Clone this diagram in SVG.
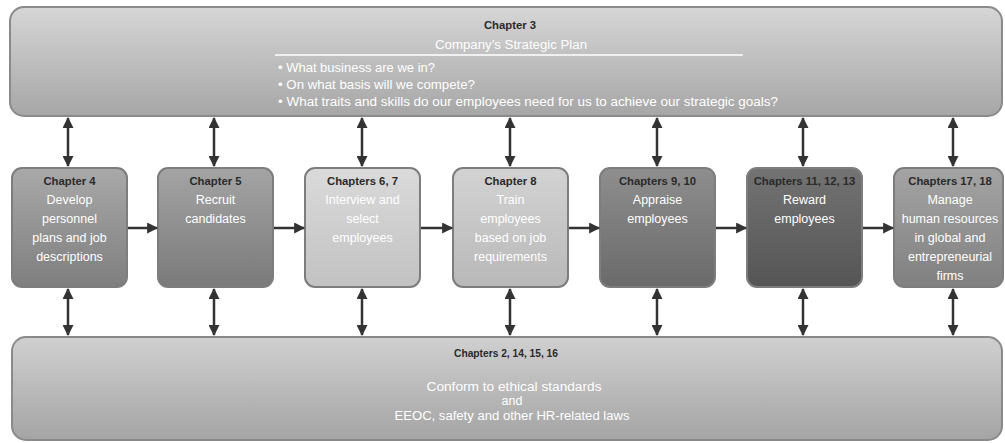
<svg xmlns="http://www.w3.org/2000/svg" width="1005" height="443" viewBox="0 0 1005 443">
<style>
.big{stroke:#8a8a8a;stroke-width:2}
.node{stroke:#7d7d7d;stroke-width:2}
.chap{font-family:"Liberation Sans",Arial,sans-serif;font-weight:bold;font-size:11.3px;fill:#2a2a2a;text-anchor:middle}
.desc{font-family:"Liberation Sans",Arial,sans-serif;font-size:12.5px;fill:#ffffff;text-anchor:middle}
.bul{font-family:"Liberation Sans",Arial,sans-serif;font-size:12.5px;fill:#ffffff}
.conn{stroke:#333;stroke-width:2.5;fill:none}
</style>
<defs>
<linearGradient id="gTop" x1="0" y1="0" x2="0" y2="1"><stop offset="0" stop-color="#d6d6d6"/><stop offset="1" stop-color="#a6a6a6"/></linearGradient>
<linearGradient id="gBot" x1="0" y1="0" x2="0" y2="1"><stop offset="0" stop-color="#d0d0d0"/><stop offset="1" stop-color="#a4a4a4"/></linearGradient>
<linearGradient id="g1" x1="0" y1="0" x2="0" y2="1"><stop offset="0" stop-color="#a9a9a9"/><stop offset="1" stop-color="#7e7e7e"/></linearGradient>
<linearGradient id="g2" x1="0" y1="0" x2="0" y2="1"><stop offset="0" stop-color="#a4a4a4"/><stop offset="1" stop-color="#7a7a7a"/></linearGradient>
<linearGradient id="g3" x1="0" y1="0" x2="0" y2="1"><stop offset="0" stop-color="#dadada"/><stop offset="1" stop-color="#c2c2c2"/></linearGradient>
<linearGradient id="g4" x1="0" y1="0" x2="0" y2="1"><stop offset="0" stop-color="#d3d3d3"/><stop offset="1" stop-color="#b8b8b8"/></linearGradient>
<linearGradient id="g5" x1="0" y1="0" x2="0" y2="1"><stop offset="0" stop-color="#8e8e8e"/><stop offset="1" stop-color="#6a6a6a"/></linearGradient>
<linearGradient id="g6" x1="0" y1="0" x2="0" y2="1"><stop offset="0" stop-color="#737373"/><stop offset="1" stop-color="#555555"/></linearGradient>
<linearGradient id="g7" x1="0" y1="0" x2="0" y2="1"><stop offset="0" stop-color="#a4a4a4"/><stop offset="1" stop-color="#808080"/></linearGradient>
<marker id="ah" viewBox="0 0 10 10" refX="9" refY="5" markerWidth="5" markerHeight="4.4" orient="auto-start-reverse" markerUnits="strokeWidth"><path d="M0,0 L10,5 L0,10 Z" fill="#333"/></marker>
</defs>
<rect width="1005" height="443" fill="#ffffff"/>

<g id="strategic-plan">
<rect class="big" x="10" y="7" width="992" height="109" rx="14" fill="url(#gTop)"/>
<text class="chap" x="510" y="29">Chapter 3</text>
<text class="desc" x="511" y="49" font-size="14" textLength="152" lengthAdjust="spacingAndGlyphs">Company’s Strategic Plan</text>
<line x1="275" y1="55" x2="743" y2="55" stroke="#ffffff" stroke-width="1.5"/>
<text class="bul" x="278" y="72" textLength="157" lengthAdjust="spacingAndGlyphs">• What business are we in?</text>
<text class="bul" x="278" y="89" textLength="197" lengthAdjust="spacingAndGlyphs">• On what basis will we compete?</text>
<text class="bul" x="278" y="106" textLength="500" lengthAdjust="spacingAndGlyphs">• What traits and skills do our employees need for us to achieve our strategic goals?</text>
</g>

<g id="n1">
<rect class="node" x="12" y="168" width="115" height="119" rx="10" fill="url(#g1)"/>
<text class="chap" x="69.5" y="185">Chapter 4</text>
<text class="desc" x="69.5" y="204">Develop</text>
<text class="desc" x="69.5" y="223">personnel</text>
<text class="desc" x="69.5" y="242">plans and job</text>
<text class="desc" x="69.5" y="261">descriptions</text>
</g>
<g id="n2">
<rect class="node" x="158" y="168" width="115" height="119" rx="10" fill="url(#g2)"/>
<text class="chap" x="215.5" y="185">Chapter 5</text>
<text class="desc" x="215.5" y="204">Recruit</text>
<text class="desc" x="215.5" y="223">candidates</text>
</g>
<g id="n3">
<rect class="node" x="305" y="168" width="115" height="119" rx="10" fill="url(#g3)" stroke="#a8a8a8"/>
<text class="chap" x="362.5" y="185">Chapters 6, 7</text>
<text class="desc" x="362.5" y="204">Interview and</text>
<text class="desc" x="362.5" y="223">select</text>
<text class="desc" x="362.5" y="242">employees</text>
</g>
<g id="n4">
<rect class="node" x="453" y="168" width="115" height="119" rx="10" fill="url(#g4)" stroke="#a0a0a0"/>
<text class="chap" x="510.5" y="185">Chapter 8</text>
<text class="desc" x="510.5" y="204">Train</text>
<text class="desc" x="510.5" y="223">employees</text>
<text class="desc" x="510.5" y="242">based on job</text>
<text class="desc" x="510.5" y="261">requirements</text>
</g>
<g id="n5">
<rect class="node" x="600" y="168" width="115" height="119" rx="10" fill="url(#g5)" stroke="#666"/>
<text class="chap" x="657.5" y="185">Chapters 9, 10</text>
<text class="desc" x="657.5" y="204">Appraise</text>
<text class="desc" x="657.5" y="223">employees</text>
</g>
<g id="n6">
<rect class="node" x="747" y="168" width="115" height="119" rx="10" fill="url(#g6)" stroke="#555"/>
<text class="chap" x="804.5" y="185">Chapters 11, 12, 13</text>
<text class="desc" x="804.5" y="204">Reward</text>
<text class="desc" x="804.5" y="223">employees</text>
</g>
<g id="n7">
<rect class="node" x="894" y="168" width="109" height="119" rx="10" fill="url(#g7)"/>
<text class="chap" x="950" y="185">Chapters 17, 18</text>
<text class="desc" x="950" y="204">Manage</text>
<text class="desc" x="950" y="223">human resources</text>
<text class="desc" x="950" y="242">in global and</text>
<text class="desc" x="950" y="261">entrepreneurial</text>
<text class="desc" x="950" y="280">firms</text>
</g>

<g id="laws">
<rect class="big" x="12" y="337" width="990" height="103" rx="14" fill="url(#gBot)"/>
<text class="chap" x="506" y="357" textLength="104" lengthAdjust="spacingAndGlyphs">Chapters 2, 14, 15, 16</text>
<text class="desc" x="514" y="391" font-size="13" textLength="175" lengthAdjust="spacingAndGlyphs">Conform to ethical standards</text>
<text class="desc" x="512" y="405" font-size="13">and</text>
<text class="desc" x="512" y="420" font-size="13" textLength="235" lengthAdjust="spacingAndGlyphs">EEOC, safety and other HR-related laws</text>
</g>

<g id="connectors">
<line class="conn" x1="128" y1="228" x2="157" y2="228" marker-end="url(#ah)"/>
<line class="conn" x1="274" y1="228" x2="304" y2="228" marker-end="url(#ah)"/>
<line class="conn" x1="421" y1="228" x2="452" y2="228" marker-end="url(#ah)"/>
<line class="conn" x1="569" y1="228" x2="599" y2="228" marker-end="url(#ah)"/>
<line class="conn" x1="716" y1="228" x2="746" y2="228" marker-end="url(#ah)"/>
<line class="conn" x1="863" y1="228" x2="893" y2="228" marker-end="url(#ah)"/>
<line class="conn" x1="68" y1="118" x2="68" y2="166" marker-start="url(#ah)" marker-end="url(#ah)"/>
<line class="conn" x1="214" y1="118" x2="214" y2="166" marker-start="url(#ah)" marker-end="url(#ah)"/>
<line class="conn" x1="362" y1="118" x2="362" y2="166" marker-start="url(#ah)" marker-end="url(#ah)"/>
<line class="conn" x1="510" y1="118" x2="510" y2="166" marker-start="url(#ah)" marker-end="url(#ah)"/>
<line class="conn" x1="657" y1="118" x2="657" y2="166" marker-start="url(#ah)" marker-end="url(#ah)"/>
<line class="conn" x1="803" y1="118" x2="803" y2="166" marker-start="url(#ah)" marker-end="url(#ah)"/>
<line class="conn" x1="953" y1="118" x2="953" y2="166" marker-start="url(#ah)" marker-end="url(#ah)"/>
<line class="conn" x1="68" y1="289" x2="68" y2="335" marker-start="url(#ah)" marker-end="url(#ah)"/>
<line class="conn" x1="214" y1="289" x2="214" y2="335" marker-start="url(#ah)" marker-end="url(#ah)"/>
<line class="conn" x1="362" y1="289" x2="362" y2="335" marker-start="url(#ah)" marker-end="url(#ah)"/>
<line class="conn" x1="510" y1="289" x2="510" y2="335" marker-start="url(#ah)" marker-end="url(#ah)"/>
<line class="conn" x1="657" y1="289" x2="657" y2="335" marker-start="url(#ah)" marker-end="url(#ah)"/>
<line class="conn" x1="803" y1="289" x2="803" y2="335" marker-start="url(#ah)" marker-end="url(#ah)"/>
<line class="conn" x1="953" y1="289" x2="953" y2="335" marker-start="url(#ah)" marker-end="url(#ah)"/>
</g>
</svg>
